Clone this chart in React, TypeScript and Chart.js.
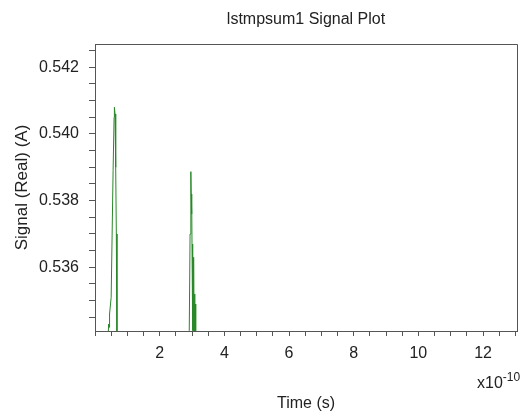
import React, { useEffect, useRef } from 'react';
import { Chart, registerables } from 'chart.js';

Chart.register(...registerables);

const titleText = 'lstmpsum1 Signal Plot';
const xAxisTitle = 'Time (s)';
const yAxisTitle = 'Signal (Real) (A)';
const xExponentBase = 'x10';
const xExponent = '-10';

// time in units of 1e-10 s
const timeValues = [
  0, 0.38, 0.42, 0.44, 0.45, 0.5, 0.53, 0.56, 0.59, 0.6, 0.62, 0.64, 0.66, 0.68, 0.72,
  2.9, 2.915, 2.94, 2.964, 2.975, 2.985, 2.995, 3.0, 3.015, 3.025, 3.04, 3.05, 3.065, 3.08,
  3.09, 3.1, 3.115, 3.13, 13.05,
];
const signalValues = [
  0.533, 0.533, 0.5343, 0.5342, 0.5346, 0.5351, 0.537, 0.5389, 0.5405, 0.5408, 0.5406, 0.539,
  0.537, 0.533, 0.533,
  0.533, 0.5341, 0.537, 0.53887, 0.5382, 0.5376, 0.538, 0.5367, 0.5341, 0.5364, 0.534, 0.5363,
  0.5335, 0.5352, 0.5338, 0.5349, 0.533, 0.533, 0.533,
];

const xMin = 0;
const xMax = 13.05;
const xStep = 0.5;
const xLabelTicks = [2, 4, 6, 8, 10, 12];
const yMin = 0.53409;
const yMax = 0.5427;
const yStep = 0.0005;
const yLabelTicks = [0.536, 0.538, 0.54, 0.542];

const FONT = '"Liberation Sans", Arial, sans-serif';
const AXIS_COLOR = '#555555';
const LINE_COLOR = 'rgb(40,135,40)';

const framePlugin = {
  id: 'frame',
  afterDraw(chart: any) {
    const { ctx, chartArea } = chart;
    ctx.save();
    ctx.strokeStyle = AXIS_COLOR;
    ctx.lineWidth = 1;
    ctx.beginPath();
    ctx.moveTo(chartArea.left, chartArea.top + 0.5);
    ctx.lineTo(chartArea.right + 0.5, chartArea.top + 0.5);
    ctx.lineTo(chartArea.right + 0.5, chartArea.bottom);
    ctx.stroke();
    ctx.restore();
  },
};

const exponentPlugin = {
  id: 'exponent',
  afterDraw(chart: any) {
    const { ctx, chartArea } = chart;
    ctx.save();
    ctx.fillStyle = '#222';
    ctx.textBaseline = 'alphabetic';
    ctx.textAlign = 'left';
    ctx.font = `16px ${FONT}`;
    const baseX = chartArea.right - 40;
    const baseY = chartArea.bottom + 57;
    ctx.fillText(xExponentBase, baseX, baseY);
    const w = ctx.measureText(xExponentBase).width;
    ctx.font = `12px ${FONT}`;
    ctx.fillText(xExponent, baseX + w, baseY - 7);
    ctx.restore();
  },
};

export default function App() {
  const canvasRef = useRef<HTMLCanvasElement>(null);

  useEffect(() => {
    if (!canvasRef.current) return;
    const chart = new Chart(canvasRef.current, {
      type: 'line',
      data: {
        datasets: [
          {
            data: timeValues.map((t, i) => ({ x: t, y: signalValues[i] })),
            borderColor: LINE_COLOR,
            borderWidth: 1,
            pointRadius: 0,
            tension: 0,
            fill: false,
          },
        ],
      },
      options: {
        animation: false,
        responsive: true,
        maintainAspectRatio: false,
        layout: { padding: { left: 0, right: 11, top: 0, bottom: 0 } },
        plugins: {
          legend: { display: false },
          tooltip: { enabled: false },
          title: {
            display: true,
            text: titleText,
            fullSize: false,
            color: '#222',
            font: { family: FONT, size: 16, weight: 'normal' },
            padding: { top: 10, bottom: 14.8 },
          },
        },
        scales: {
          x: {
            type: 'linear',
            min: xMin,
            max: xMax,
            afterFit(scale: any) {
              scale.height = 83;
            },
            border: { display: true, color: AXIS_COLOR, width: 1 },
            grid: {
              display: true,
              drawOnChartArea: false,
              drawTicks: true,
              tickLength: 5,
              tickColor: AXIS_COLOR,
            },
            ticks: {
              stepSize: xStep,
              includeBounds: false,
              autoSkip: false,
              maxRotation: 0,
              padding: 8,
              color: '#222',
              font: { family: FONT, size: 16 },
              callback: (v: any) => {
                const n = Number(v);
                return xLabelTicks.some((t) => Math.abs(t - n) < 1e-6) ? String(Math.round(n)) : '';
              },
            },
            title: {
              display: true,
              text: xAxisTitle,
              color: '#222',
              font: { family: FONT, size: 16 },
              padding: { top: 0, bottom: 0.5 },
            },
          },
          y: {
            type: 'linear',
            min: yMin,
            max: yMax,
            afterFit(scale: any) {
              scale.width = 95;
            },
            border: { display: true, color: AXIS_COLOR, width: 1 },
            grid: {
              display: true,
              drawOnChartArea: false,
              drawTicks: true,
              tickLength: 6,
              tickColor: AXIS_COLOR,
            },
            ticks: {
              stepSize: yStep,
              includeBounds: false,
              autoSkip: false,
              padding: 10,
              color: '#222',
              font: { family: FONT, size: 16 },
              callback: (v: any) => {
                const n = Number(v);
                return yLabelTicks.some((t) => Math.abs(t - n) < 1e-7) ? n.toFixed(3) : '';
              },
            },
            title: {
              display: true,
              text: yAxisTitle,
              color: '#222',
              font: { family: FONT, size: 17 },
              padding: { top: 11.8, bottom: 0 },
            },
          },
        },
      },
      plugins: [framePlugin, exponentPlugin],
    });
    return () => chart.destroy();
  }, []);

  return (
    <div style={{ position: 'absolute', left: 0, top: 0, width: 528, height: 414 }}>
      <canvas ref={canvasRef} />
    </div>
  );
}
